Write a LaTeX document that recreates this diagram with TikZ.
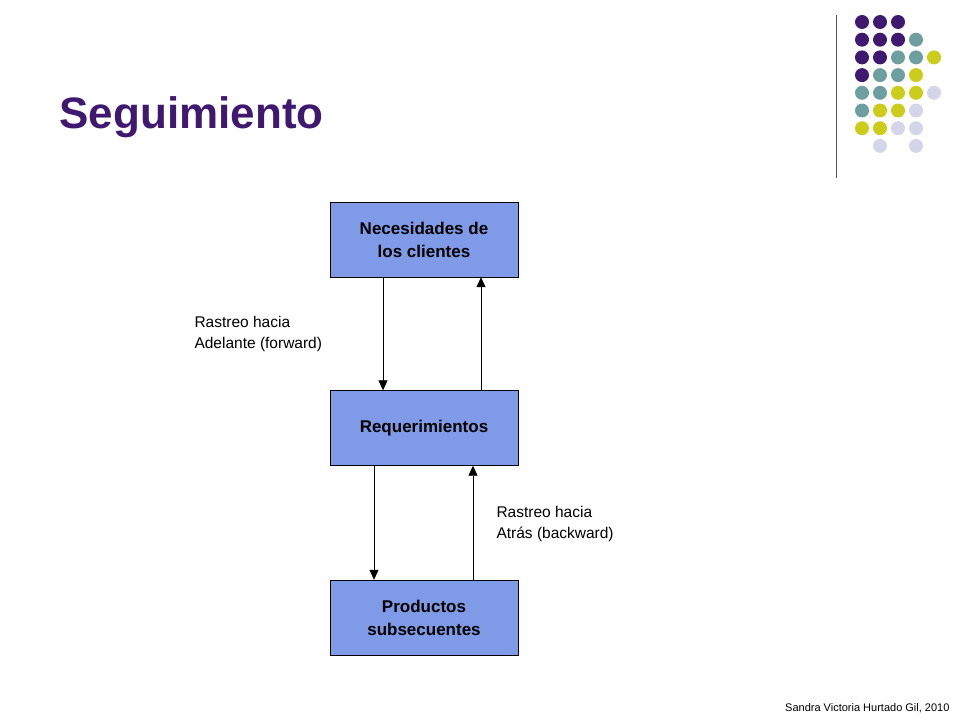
\documentclass[tikz,border=0pt]{standalone}
\usepackage{fontspec}
\setmainfont{Liberation Sans}
\usetikzlibrary{arrows.meta}
\definecolor{P}{HTML}{3F1870}
\definecolor{T}{HTML}{6E9FA0}
\definecolor{Y}{HTML}{CCCC1A}
\definecolor{L}{HTML}{D4D4EA}
\definecolor{N}{HTML}{FFFFFF}
\definecolor{boxblue}{HTML}{7F9BE8}
\tikzset{
  stage/.style={draw=black, fill=boxblue, minimum width=188pt, minimum height=75pt,
    align=center, font=\fontsize{17}{23}\selectfont\bfseries, inner sep=0pt},
  trace/.style={-{Triangle[length=10pt,width=9pt]}, line width=0.8pt},
  note/.style={align=left, anchor=west, font=\fontsize{15.5}{21}\selectfont}
}
\begin{document}
\begin{tikzpicture}[x=1pt,y=-1pt]
    \useasboundingbox (0,0) rectangle (960,720);

    % title and decoration
    \node[anchor=west, text=P, font=\fontsize{44}{50}\selectfont\bfseries] (title) at (56,117) {Seguimiento};
    \draw[line width=0.6pt, gray!70!black] (836,15) -- (836,178);
    \foreach \r/\row in {0/{P,P,P}, 1/{P,P,P,T}, 2/{P,P,T,T,Y}, 3/{P,T,T,Y}, 4/{T,T,Y,Y,L}, 5/{T,Y,Y,L}, 6/{Y,Y,L,L}, 7/{N,L,N,L}}
      \foreach \c [count=\k from 0] in \row
        \fill[\c] (862+18*\k, 22+17.7*\r) circle (7);

    % stages
    \node[stage] (needs) at (424,239.5) {Necesidades de\\los clientes};
    \node[stage] (reqs) at (424,428) {Requerimientos};
    \node[stage] (prods) at (424,617.5) {Productos\\subsecuentes};

    % tracing arrows
    \draw[trace] (needs.south -| 383,0) -- (reqs.north -| 383,0);
    \draw[trace] (reqs.north -| 481,0) -- (needs.south -| 481,0);
    \draw[trace] (reqs.south -| 374,0) -- (prods.north -| 374,0);
    \draw[trace] (prods.north -| 473,0) -- (reqs.south -| 473,0);

    \node[note] (fwd) at (191,334) {Rastreo hacia\\Adelante (forward)};
    \node[note] (bwd) at (493,524) {Rastreo hacia\\Atrás (backward)};

    \node[anchor=east, font=\fontsize{11}{13}\selectfont] (credit) at (953,708) {Sandra Victoria Hurtado Gil, 2010};
\end{tikzpicture}
\end{document}
